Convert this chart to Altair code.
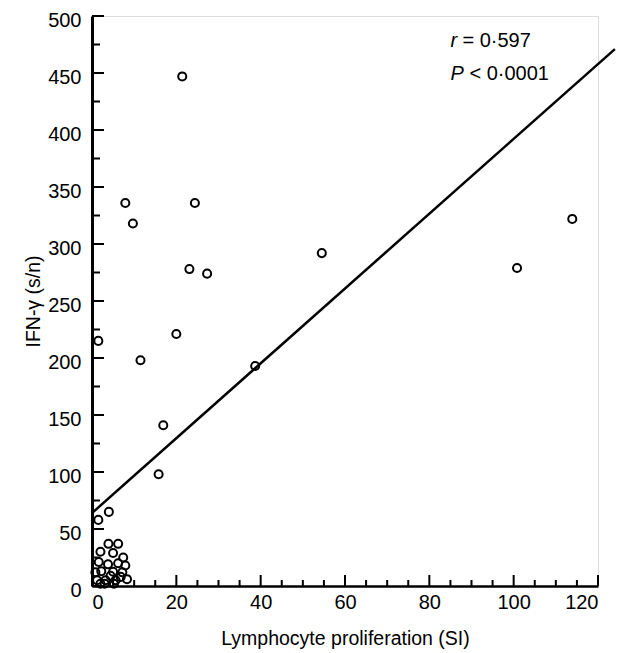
import altair as alt
import pandas as pd

# Scatter data: lymphocyte proliferation (SI) vs IFN-gamma (s/n)
si = [21.4, 7.9, 24.4, 9.7, 23.1, 27.3, 54.5, 113.9, 100.8, 20.0, 1.5, 11.5, 38.7, 16.9, 15.8, 4.0, 1.5,
      3.9, 6.2, 2.0, 5.0, 7.4, 1.6, 3.8, 6.2, 7.9, 2.2, 5.0, 7.2, 8.3, 1.2, 3.2, 5.6, 2.0, 4.4, 6.8, 0.8, 3.0, 5.2]
ifn = [447, 336, 336, 318, 278, 274, 292, 322, 279, 221, 215, 198, 193, 141, 98, 65, 58,
       37, 37, 30, 29, 25, 21, 19, 20, 18, 13, 12.5, 12, 6, 5, 5, 5, 2, 9, 8, 12, 2, 2]

# Regression line endpoints
line_x = [0, 124]
line_y = [64, 471]

# Axis tick values
x_major = [0, 20, 40, 60, 80, 100, 120]
x_minor = [v for v in range(5, 120, 5) if v % 20 != 0]
y_major = [0, 50, 100, 150, 200, 250, 300, 350, 400, 450, 500]
y_minor = [25, 75, 125, 175, 225, 275, 325, 375, 425, 475]

# Annotation
ann_italic = ["r", "P"]
ann_rest = ["= 0·597", "< 0·0001"]
ann_x = [85, 85]
ann_y = [478, 449]

FONT = "Liberation Sans"
FS = 20
W, H = 506, 570

xs = alt.Scale(domain=[0, 120], nice=False, zero=False)
ys = alt.Scale(domain=[0, 500], nice=False, zero=False)

pts = pd.DataFrame({"si": si, "ifn": ifn})
line_df = pd.DataFrame({"x": line_x, "y": line_y})
ann_df = pd.DataFrame({"it": ann_italic, "rest": ann_rest, "x": ann_x, "y": ann_y})

x_axis = alt.Axis(values=x_major, ticks=False, grid=False, domainColor="black", domainWidth=2.5,
                  labelFont=FONT, labelFontSize=FS, labelColor="black", labelPadding=6,
                  title="Lymphocyte proliferation (SI)", titleFont=FONT, titleFontSize=19.5,
                  titleFontWeight="normal", titleColor="black", titleY=52, titleBaseline="middle")
y_axis = alt.Axis(values=y_major, ticks=False, grid=False, domainColor="black", domainWidth=3,
                  labelFont=FONT, labelFontSize=FS, labelColor="black", labelPadding=11, labelOffset=4,
                  title="IFN-γ (s/n)", titleFont=FONT, titleFontSize=19.5,
                  titleFontWeight="normal", titleColor="black", titleX=-59, titleBaseline="middle")

points = alt.Chart(pts).mark_point(shape="circle", filled=False, stroke="black", strokeWidth=2,
                                   size=65, opacity=1).encode(
    x=alt.X("si:Q", scale=xs, axis=x_axis),
    y=alt.Y("ifn:Q", scale=ys, axis=y_axis),
)

reg = alt.Chart(line_df).mark_line(color="black", strokeWidth=2.5).encode(
    x=alt.X("x:Q", scale=xs), y=alt.Y("y:Q", scale=ys))

ymaj = alt.Chart(pd.DataFrame({"v": y_major})).mark_rule(color="black", strokeWidth=2).encode(
    y=alt.Y("v:Q", scale=ys), x=alt.value(0), x2=alt.value(12))
ymin = alt.Chart(pd.DataFrame({"v": y_minor})).mark_rule(color="black", strokeWidth=2).encode(
    y=alt.Y("v:Q", scale=ys), x=alt.value(0), x2=alt.value(8))
xmaj = alt.Chart(pd.DataFrame({"v": x_major})).mark_rule(color="black", strokeWidth=2).encode(
    x=alt.X("v:Q", scale=xs), y=alt.value(H), y2=alt.value(H - 11))
xmin = alt.Chart(pd.DataFrame({"v": x_minor})).mark_rule(color="black", strokeWidth=2).encode(
    x=alt.X("v:Q", scale=xs), y=alt.value(H), y2=alt.value(H - 6))

t_it = alt.Chart(ann_df).mark_text(font=FONT, fontSize=FS, fontStyle="italic", align="left",
                                   baseline="middle", color="black").encode(
    x=alt.X("x:Q", scale=xs), y=alt.Y("y:Q", scale=ys), text="it:N")
t_r = alt.Chart(ann_df.iloc[[0]]).mark_text(font=FONT, fontSize=FS, align="left", baseline="middle",
                                            color="black", dx=12).encode(
    x=alt.X("x:Q", scale=xs), y=alt.Y("y:Q", scale=ys), text="rest:N")
t_p = alt.Chart(ann_df.iloc[[1]]).mark_text(font=FONT, fontSize=FS, align="left", baseline="middle",
                                            color="black", dx=19).encode(
    x=alt.X("x:Q", scale=xs), y=alt.Y("y:Q", scale=ys), text="rest:N")

chart = alt.layer(ymaj, ymin, xmaj, xmin, reg, points, t_it, t_r, t_p).properties(
    width=W, height=H,
    autosize=alt.AutoSizeParams(type="none"),
    padding={"left": 84, "top": 8, "right": 30, "bottom": 64},
).configure_view(stroke=None).configure(background="white")

chart.save("out.html", embed_options={"renderer": "svg", "actions": False})
